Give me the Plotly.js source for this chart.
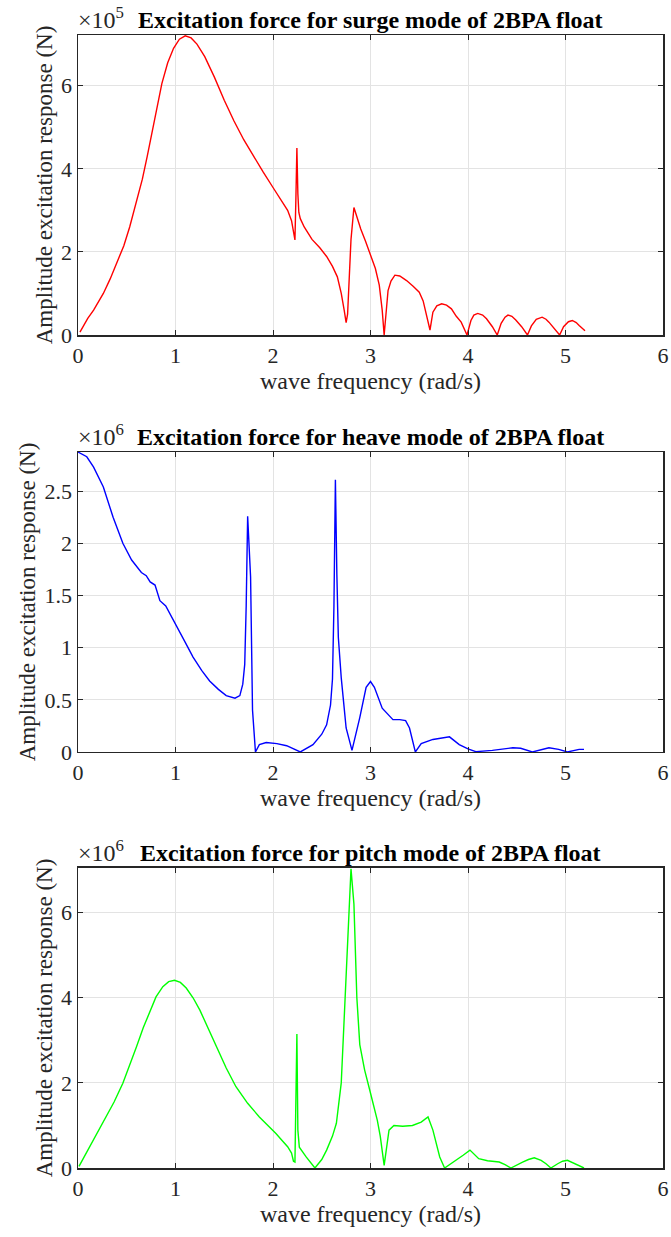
<!DOCTYPE html>
<html>
<head>
<meta charset="utf-8">
<script src="https://cdn.plot.ly/plotly-3.0.1.min.js"></script>
<style>
  html, body { margin: 0; padding: 0; background: #ffffff; }
  #chart { width: 671px; height: 1237px; }
</style>
</head>
<body>
<div id="chart"></div>
<script>
// ---------- Data ----------
// Surge mode, amplitude in units of 1e5 N
const surgeFreq = [
  0.02,0.10,0.16,0.26,0.33,0.40,0.47,0.53,0.60,0.66,
  0.71,0.76,0.81,0.86,0.92,0.98,1.04,1.10,1.16,1.22,
  1.30,1.40,1.50,1.60,1.70,1.80,1.90,2.00,2.08,2.15,
  2.19,2.21,2.225,2.235,2.245,2.255,2.265,2.28,2.32,2.40,
  2.48,2.55,2.61,2.66,2.70,2.73,2.75,2.765,2.78,2.80,
  2.83,2.86,2.90,2.95,3.00,3.05,3.09,3.12,3.14,3.16,
  3.18,3.21,3.25,3.30,3.37,3.44,3.50,3.54,3.57,3.61,
  3.64,3.68,3.73,3.78,3.83,3.88,3.93,3.96,3.99,4.03,
  4.06,4.10,4.15,4.19,4.25,4.30,4.34,4.38,4.41,4.45,
  4.49,4.55,4.61,4.65,4.70,4.76,4.80,4.83,4.89,4.94,
  4.98,5.03,5.07,5.11,5.14,5.20
];
const surgeAmp = [
  0.07,0.40,0.60,1.00,1.35,1.73,2.15,2.60,3.20,3.75,
  4.30,4.90,5.50,6.05,6.55,6.90,7.12,7.20,7.15,7.00,
  6.70,6.20,5.65,5.15,4.70,4.30,3.92,3.55,3.27,3.00,
  2.75,2.50,2.29,3.30,4.50,3.40,2.95,2.80,2.60,2.30,
  2.10,1.89,1.65,1.40,1.00,0.60,0.30,0.50,1.30,2.30,
  3.07,2.85,2.55,2.25,1.90,1.60,1.20,0.60,0.00,0.60,
  1.07,1.30,1.44,1.42,1.31,1.17,1.03,0.82,0.55,0.12,
  0.55,0.70,0.75,0.72,0.63,0.45,0.31,0.15,0.00,0.35,
  0.48,0.52,0.48,0.39,0.20,0.00,0.28,0.43,0.48,0.45,
  0.36,0.20,0.00,0.22,0.38,0.43,0.38,0.31,0.15,0.00,
  0.20,0.32,0.35,0.30,0.23,0.10
];

// Heave mode, amplitude in units of 1e6 N
const heaveFreq = [
  0.00,0.09,0.16,0.26,0.36,0.46,0.55,0.65,0.70,0.74,
  0.79,0.84,0.90,1.01,1.10,1.18,1.27,1.35,1.44,1.52,
  1.61,1.66,1.69,1.71,1.725,1.74,1.755,1.77,1.79,1.82,
  1.86,1.93,2.04,2.14,2.28,2.41,2.50,2.55,2.59,2.61,
  2.625,2.64,2.655,2.67,2.70,2.75,2.81,2.89,2.955,3.00,
  3.04,3.12,3.23,3.30,3.36,3.40,3.46,3.52,3.64,3.72,
  3.81,3.91,4.00,4.08,4.25,4.46,4.54,4.66,4.83,4.93,
  5.02,5.14,5.19
];
const heaveAmp = [
  2.875,2.83,2.73,2.54,2.25,2.00,1.84,1.72,1.69,1.63,
  1.60,1.45,1.40,1.20,1.05,0.91,0.78,0.68,0.60,0.54,
  0.515,0.54,0.65,0.84,1.40,2.26,2.00,1.68,0.40,0.00,
  0.07,0.09,0.08,0.06,0.00,0.07,0.17,0.26,0.45,0.70,
  1.40,2.61,1.70,1.10,0.71,0.23,0.015,0.33,0.62,0.675,
  0.62,0.42,0.31,0.31,0.30,0.23,0.00,0.08,0.12,0.135,
  0.145,0.07,0.03,0.003,0.015,0.04,0.035,0.00,0.04,0.025,
  0.00,0.025,0.025
];

// Pitch mode, amplitude in units of 1e6 N
const pitchFreq = [
  0.01,0.08,0.16,0.22,0.29,0.37,0.46,0.53,0.60,0.67,
  0.74,0.80,0.87,0.93,0.99,1.05,1.11,1.18,1.25,1.33,
  1.42,1.52,1.62,1.74,1.86,1.95,2.03,2.10,2.15,2.19,
  2.21,2.225,2.235,2.245,2.255,2.27,2.34,2.43,2.50,2.55,
  2.61,2.65,2.70,2.74,2.775,2.80,2.83,2.86,2.89,2.94,
  2.99,3.03,3.07,3.10,3.12,3.14,3.19,3.24,3.33,3.43,
  3.52,3.59,3.64,3.71,3.76,3.88,3.95,4.02,4.07,4.11,
  4.20,4.32,4.38,4.44,4.56,4.62,4.68,4.75,4.80,4.85,
  4.92,4.97,5.02,5.10,5.19
];
const pitchAmp = [
  0.04,0.33,0.65,0.90,1.20,1.55,1.99,2.40,2.85,3.30,
  3.71,4.02,4.26,4.38,4.41,4.36,4.23,4.00,3.71,3.30,
  2.85,2.35,1.91,1.52,1.20,1.00,0.81,0.63,0.50,0.35,
  0.16,0.14,1.50,3.15,0.89,0.49,0.26,0.00,0.20,0.42,
  0.75,1.05,2.00,4.00,6.00,7.03,6.20,4.00,2.90,2.30,
  1.85,1.50,1.12,0.75,0.40,0.06,0.89,1.00,0.98,1.00,
  1.08,1.20,0.89,0.26,0.00,0.18,0.30,0.42,0.32,0.22,
  0.17,0.14,0.08,0.00,0.14,0.20,0.24,0.18,0.10,0.00,
  0.10,0.16,0.18,0.10,0.00
];

const panelTitles = [
  'Excitation force for surge mode of 2BPA float',
  'Excitation force for heave mode of 2BPA float',
  'Excitation force for pitch mode of 2BPA float'
];
const panelExponents = ['5', '6', '6'];
const xTitle = 'wave frequency (rad/s)';
const yTitle = 'Amplitude excitation response (N)';
const xTickVals = [0, 1, 2, 3, 4, 5, 6];
const surgeTickVals = [0, 2, 4, 6];
const heaveTickVals = [0, 0.5, 1, 1.5, 2, 2.5];
const pitchTickVals = [0, 2, 4, 6];

// ---------- Styling ----------
const FONT = 'Liberation Serif, Times New Roman, serif';
const AXC = '#262626';
const GRID = '#e3e3e3';

const domains = [[0.7352, 1.0], [0.3672, 0.6319], [0.0, 0.2648]];
const yRanges = [[0, 7.22], [0, 2.875], [0, 7.05]];
const yTicks = [surgeTickVals, heaveTickVals, pitchTickVals];

function xAxis(i) {
  return {
    domain: [0, 1],
    anchor: 'y' + (i === 0 ? '' : i + 1),
    range: [0, 6],
    tickvals: xTickVals,
    ticks: 'inside', ticklen: 5, tickwidth: 1, tickcolor: AXC,
    showline: true, linecolor: AXC, linewidth: 1.5, mirror: 'ticks',
    showgrid: true, gridcolor: GRID, gridwidth: 1,
    zeroline: false,
    tickfont: { family: FONT, size: 22, color: AXC },
    title: { text: xTitle, font: { family: FONT, size: 24, color: AXC }, standoff: 4 },
    fixedrange: true
  };
}
function yAxis(i) {
  return {
    domain: domains[i],
    anchor: 'x' + (i === 0 ? '' : i + 1),
    range: yRanges[i],
    tickvals: yTicks[i],
    ticks: 'inside', ticklen: 5, tickwidth: 1, tickcolor: AXC,
    showline: true, linecolor: AXC, linewidth: 1.5, mirror: 'ticks',
    showgrid: true, gridcolor: GRID, gridwidth: 1,
    zeroline: false,
    tickfont: { family: FONT, size: 22, color: AXC },
    title: { text: yTitle, font: { family: FONT, size: 23, color: AXC }, standoff: 2 },
    fixedrange: true
  };
}

const traces = [
  { x: surgeFreq, y: surgeAmp, xaxis: 'x', yaxis: 'y', color: '#ff0000' },
  { x: heaveFreq, y: heaveAmp, xaxis: 'x2', yaxis: 'y2', color: '#0000ff' },
  { x: pitchFreq, y: pitchAmp, xaxis: 'x3', yaxis: 'y3', color: '#00ff00' }
].map(t => ({
  type: 'scatter', mode: 'lines', x: t.x, y: t.y,
  xaxis: t.xaxis, yaxis: t.yaxis,
  line: { color: t.color, width: 1.4, shape: 'linear' },
  cliponaxis: true, showlegend: false, hoverinfo: 'skip'
}));

const annotations = [];
for (let i = 0; i < 3; i++) {
  annotations.push({
    xref: 'paper', yref: 'paper', x: 0.5, y: domains[i][1],
    xanchor: 'center', yanchor: 'bottom', yshift: 0,
    text: '<b>' + panelTitles[i] + '</b>', showarrow: false,
    font: { family: FONT, size: 24, color: '#000000' }
  });
  annotations.push({
    xref: 'paper', yref: 'paper', x: 0, y: domains[i][1],
    xanchor: 'left', yanchor: 'bottom', xshift: -2, yshift: 0,
    text: '×10<sup>' + panelExponents[i] + '</sup>', showarrow: false,
    font: { family: FONT, size: 24, color: AXC }
  });
}

const layout = {
  width: 671, height: 1237,
  margin: { l: 78, r: 8, t: 35, b: 69 },
  paper_bgcolor: '#ffffff', plot_bgcolor: '#ffffff',
  showlegend: false,
  xaxis: xAxis(0), yaxis: yAxis(0),
  xaxis2: xAxis(1), yaxis2: yAxis(1),
  xaxis3: xAxis(2), yaxis3: yAxis(2),
  annotations: annotations,
  font: { family: FONT, color: AXC }
};

Plotly.newPlot('chart', traces, layout, { displayModeBar: false, staticPlot: true });
</script>
</body>
</html>
